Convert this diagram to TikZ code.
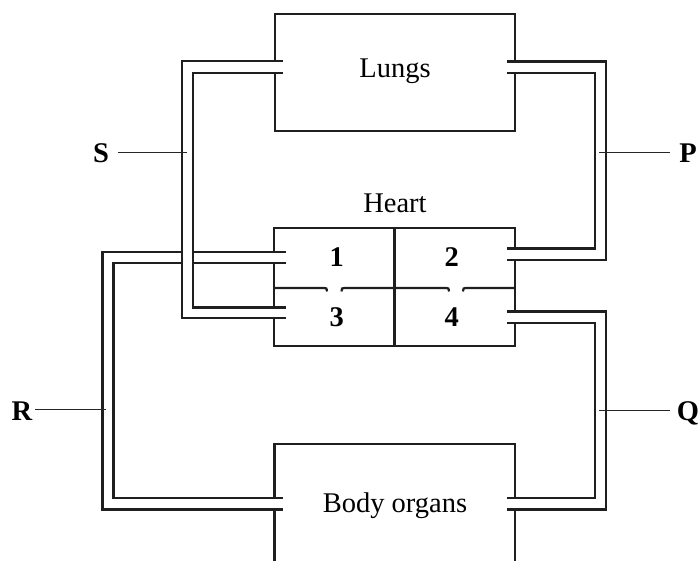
\documentclass[tikz,border=0pt]{standalone}
\usepackage{fontspec}
\setmainfont{Liberation Serif}
\begin{document}
\begin{tikzpicture}[x=1pt,y=-1pt,
  wall/.style={line width=2.2pt,line cap=rect,color=black!88},
  tube/.style={line width=2.2pt,color=black!88},
  lead/.style={line width=1pt,color=black!85},
  txt/.style={font=\fontsize{28.5}{30}\selectfont,anchor=base,inner sep=0pt},
  lbl/.style={font=\fontsize{28.5}{30}\selectfont\bfseries,anchor=base,inner sep=0pt}]
\useasboundingbox (0,0) rectangle (699,561);
% ---- Lungs box
\draw[wall] (275,61) -- (275,14) -- (515,14) -- (515,61);
\draw[wall] (275,73) -- (275,131) -- (515,131) -- (515,73);
% ---- Heart box
\draw[wall] (274,252) -- (274,228) -- (515,228) -- (515,248.5);
\draw[wall] (274,263) -- (274,307.5);
\draw[wall] (274,318) -- (274,346) -- (515,346) -- (515,323.3);
\draw[wall] (515,260) -- (515,311.5);
\draw[wall] (394.5,228) -- (394.5,346);
\draw[wall,line cap=butt] (274,288) -- (324,288) .. controls (326.5,288) .. (327,291.5);
\draw[wall,line cap=butt] (341.5,291.5) .. controls (342,288) .. (344.5,288) -- (446,288) .. controls (448.5,288) .. (449,291.5);
\draw[wall,line cap=butt] (463,291.5) .. controls (463.5,288) .. (466,288) -- (515,288);
% ---- Body organs box
\draw[wall] (274.5,498) -- (274.5,444) -- (515,444) -- (515,498);
\draw[wall,line cap=butt] (274.5,509.5) -- (274.5,561);
\draw[wall,line cap=butt] (515,509.5) -- (515,561);
% ---- S tube
\draw[tube] (283,61) -- (182,61) -- (182,318) -- (286,318);
\draw[tube] (283,73) -- (193,73) -- (193,307.5) -- (286,307.5);
% ---- P tube
\draw[tube] (507,61.5) -- (606,61.5) -- (606,260) -- (507,260);
\draw[tube] (507,73) -- (595,73) -- (595,248.5) -- (507,248.5);
% ---- R tube
\draw[tube] (182,252) -- (102.5,252) -- (102.5,509.5) -- (283,509.5);
\draw[tube] (182,263) -- (113.5,263) -- (113.5,498) -- (283,498);
\draw[tube] (193,252) -- (286,252);
\draw[tube] (193,263) -- (286,263);
% ---- Q tube
\draw[tube] (507,311.5) -- (606,311.5) -- (606,509.5) -- (507,509.5);
\draw[tube] (507,323.3) -- (595,323.3) -- (595,498) -- (507,498);
% ---- texts
\node[txt] (lungs) at (395,78) {Lungs};
\node[txt] (heart) at (395,213) {Heart};
\node[txt] (body) at (395,512) {Body organs};
\node[lbl] (c1) at (336.7,267) {1};
\node[lbl] (c2) at (451.7,267) {2};
\node[lbl] (c3) at (336.7,327) {3};
\node[lbl] (c4) at (451.7,327) {4};
\node[lbl] (S) at (101,163) {S};
\node[lbl] (P) at (688,163) {P};
\node[lbl] (R) at (22,420) {R};
\node[lbl] (Q) at (688,420) {Q};
% ---- leader lines
\coordinate (sEnd) at (187,153);
\coordinate (pEnd) at (599,153);
\coordinate (rEnd) at (106,409);
\coordinate (qEnd) at (599,410);
\draw[lead] (118,153) -- (sEnd);
\draw[lead] (pEnd) -- (670,153);
\draw[lead] (35,409) -- (rEnd);
\draw[lead] (qEnd) -- (670,410);
\end{tikzpicture}
\end{document}
